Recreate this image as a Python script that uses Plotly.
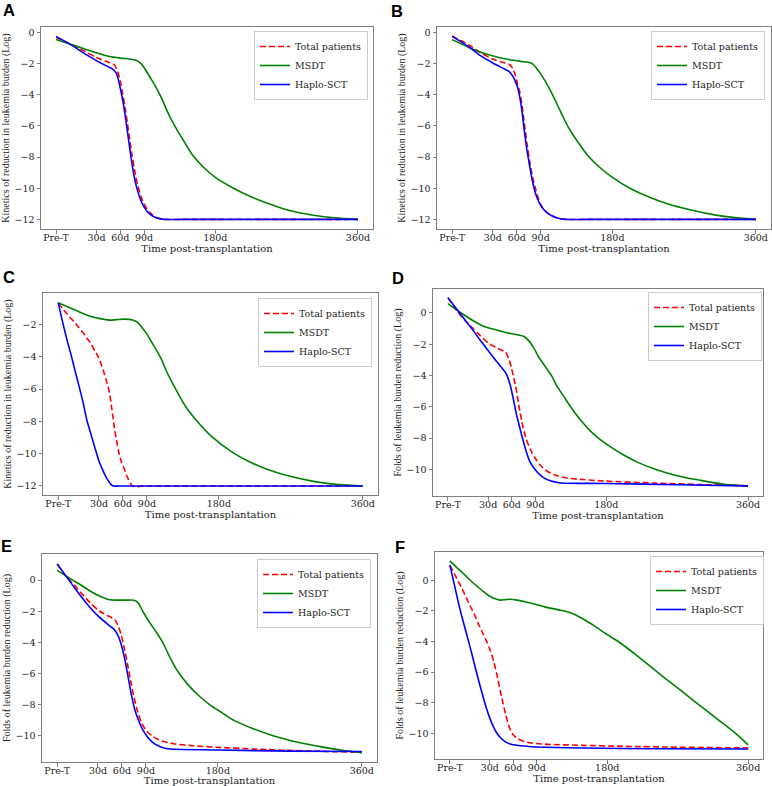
import plotly.graph_objects as go

# ---------------- data (days post-transplantation; Pre-T plotted at day -21) ----------------
TICK_DAYS = [-21, 30, 60, 90, 180, 360]
TICK_TEXT = ["Pre-T", "30d", "60d", "90d", "180d", "360d"]
SERIES_NAMES = ["Total patients", "MSDT", "Haplo-SCT"]

# Panel A
A_TOTAL_X = [-21, 0, 15, 30, 45, 52, 56, 60, 63, 66, 69, 72, 75, 78, 82, 86, 90, 97, 107, 117, 140, 180, 240, 300, 360]
A_TOTAL_Y = [-0.3, -0.8, -1.2, -1.6, -1.9, -2.05, -2.4, -3.1, -3.9, -4.8, -5.8, -6.9, -7.9, -8.8, -9.8, -10.5, -11.0, -11.55, -11.9, -12.0, -12.0, -12.0, -12.0, -12.0, -12.0]
A_MSDT_X = [-21, 0, 15, 30, 45, 60, 72, 80, 86, 92, 98, 105, 112, 118, 124, 130, 140, 151, 165, 180, 203, 225, 245, 270, 300, 330, 360]
A_MSDT_Y = [-0.45, -0.8, -1.05, -1.3, -1.52, -1.64, -1.7, -1.78, -1.98, -2.4, -2.9, -3.5, -4.2, -4.9, -5.55, -6.1, -6.95, -7.85, -8.65, -9.3, -10.0, -10.55, -10.95, -11.38, -11.7, -11.9, -12.0]
A_HAPLO_X = [-21, 0, 15, 30, 45, 50, 55, 58, 61, 64, 67, 70, 73, 76, 80, 84, 88, 95, 105, 115, 140, 180, 240, 300, 360]
A_HAPLO_Y = [-0.24, -0.85, -1.35, -1.8, -2.2, -2.33, -2.6, -3.1, -3.8, -4.6, -5.6, -6.7, -7.8, -8.8, -9.8, -10.5, -11.0, -11.55, -11.9, -12.0, -12.0, -12.0, -12.0, -12.0, -12.0]

# Panel B
B_TOTAL_X = [-21, 0, 15, 30, 45, 51, 55, 58, 61, 64, 67, 70, 73, 76, 80, 84, 88, 92, 100, 110, 121, 150, 200, 260, 310, 360]
B_TOTAL_Y = [-0.22, -0.8, -1.3, -1.7, -1.95, -2.05, -2.3, -2.7, -3.3, -3.85, -4.8, -6.0, -7.2, -8.2, -9.3, -10.1, -10.8, -11.2, -11.65, -11.9, -12.0, -12.0, -12.0, -12.0, -12.0, -12.0]
B_MSDT_X = [-21, 0, 20, 35, 50, 65, 77, 81, 85, 90, 95, 100, 105, 112, 118, 125, 135, 150, 165, 180, 202, 225, 248, 280, 310, 340, 360]
B_MSDT_Y = [-0.45, -0.95, -1.35, -1.57, -1.73, -1.85, -1.93, -2.05, -2.3, -2.65, -3.05, -3.5, -4.0, -4.75, -5.4, -6.1, -6.9, -7.95, -8.7, -9.3, -10.0, -10.55, -10.98, -11.42, -11.73, -11.92, -12.0]
B_HAPLO_X = [-21, 0, 15, 30, 45, 51, 55, 58, 61, 64, 67, 70, 73, 76, 80, 84, 88, 92, 100, 110, 121, 150, 200, 260, 310, 360]
B_HAPLO_Y = [-0.24, -0.92, -1.5, -1.95, -2.35, -2.52, -2.8, -3.1, -3.5, -4.2, -5.2, -6.5, -7.6, -8.5, -9.6, -10.4, -10.9, -11.25, -11.65, -11.9, -12.0, -12.0, -12.0, -12.0, -12.0, -12.0]

# Panel C
C_TOTAL_X = [-21, -10, 0, 5, 10, 15, 20, 25, 29, 33, 37, 40, 43, 46, 49, 52, 55, 58, 62, 66, 72, 90, 130, 180, 240, 300, 360]
C_TOTAL_Y = [-0.66, -1.35, -1.9, -2.2, -2.5, -2.85, -3.2, -3.65, -4.0, -4.5, -5.1, -5.6, -6.2, -7.2, -8.3, -9.2, -9.95, -10.5, -11.0, -11.5, -12.0, -12.0, -12.0, -12.0, -12.0, -12.0, -12.0]
C_MSDT_X = [-21, 0, 10, 20, 30, 44, 52, 62, 72, 78, 84, 90, 96, 102, 108, 114, 120, 126, 138, 152, 170, 198, 220, 241, 270, 300, 330, 360]
C_MSDT_Y = [-0.66, -1.1, -1.32, -1.5, -1.62, -1.73, -1.7, -1.67, -1.72, -1.85, -2.2, -2.6, -3.1, -3.6, -4.15, -4.85, -5.45, -6.0, -7.05, -7.95, -8.9, -9.95, -10.55, -10.98, -11.42, -11.73, -11.92, -12.0]
C_HAPLO_X = [-21, -15, -10, -5, 0, 5, 10, 15, 20, 25, 30, 35, 40, 45, 48, 60, 90, 130, 180, 240, 300, 360]
C_HAPLO_Y = [-0.66, -1.95, -2.95, -3.85, -4.85, -5.8, -6.8, -7.95, -8.8, -9.65, -10.45, -11.05, -11.55, -11.9, -12.0, -12.0, -12.0, -12.0, -12.0, -12.0, -12.0, -12.0]

# Panel D
D_TOTAL_X = [-21, -10, 0, 10, 20, 31, 40, 47, 52, 56, 60, 65, 69, 73, 78, 84, 90, 98, 106, 115, 130, 150, 180, 240, 300, 360]
D_TOTAL_Y = [0.98, 0.15, -0.45, -0.95, -1.45, -1.95, -2.2, -2.38, -2.5, -2.9, -3.6, -4.72, -5.9, -7.0, -8.0, -8.76, -9.3, -9.83, -10.15, -10.36, -10.55, -10.65, -10.75, -10.87, -10.97, -11.05]
D_MSDT_X = [-21, -10, 0, 10, 20, 30, 45, 60, 75, 82, 88, 94, 100, 111, 117, 127, 134, 142, 150, 160, 170, 185, 201, 220, 243, 270, 300, 330, 360]
D_MSDT_Y = [0.6, 0.2, -0.15, -0.47, -0.75, -0.95, -1.15, -1.33, -1.49, -1.8, -2.25, -2.8, -3.25, -4.05, -4.65, -5.4, -5.95, -6.5, -7.0, -7.55, -8.0, -8.55, -9.05, -9.55, -10.0, -10.4, -10.7, -10.95, -11.07]
D_HAPLO_X = [-21, -10, 0, 10, 20, 30, 40, 48, 53, 58, 62, 66, 69, 73, 77.5, 83, 90, 98, 107, 120, 180, 270, 360]
D_HAPLO_Y = [0.98, 0.25, -0.4, -1.05, -1.75, -2.4, -3.05, -3.55, -3.9, -4.6, -5.5, -6.5, -7.1, -7.9, -8.7, -9.5, -10.04, -10.45, -10.7, -10.85, -10.9, -10.98, -11.05]

# Panel E
E_TOTAL_X = [-21, -10, 0, 12, 20, 32, 45, 51, 55, 59, 63, 67, 71, 75, 80, 85, 91, 98, 106, 125, 150, 180, 240, 300, 360]
E_TOTAL_Y = [1.03, 0.25, -0.3, -1.0, -1.45, -2.0, -2.35, -2.55, -2.9, -3.5, -4.4, -5.4, -6.5, -7.5, -8.5, -9.2, -9.7, -10.0, -10.25, -10.5, -10.63, -10.73, -10.87, -10.97, -11.05]
E_MSDT_X = [-21, 0, 12, 20, 32, 43, 55, 65, 75, 80, 86, 95, 103, 111, 118, 125, 131, 145, 158, 170, 185, 200, 225, 250, 280, 310, 340, 360]
E_MSDT_Y = [0.62, -0.05, -0.43, -0.7, -1.03, -1.25, -1.29, -1.29, -1.3, -1.45, -2.0, -2.75, -3.35, -4.0, -4.75, -5.45, -5.95, -6.85, -7.5, -8.0, -8.5, -9.0, -9.55, -10.0, -10.4, -10.7, -10.95, -11.07]
E_HAPLO_X = [-21, -10, 0, 15, 30, 45, 50, 55, 60, 64, 68, 72, 76, 80, 86, 91, 98, 106, 115, 180, 270, 360]
E_HAPLO_Y = [1.03, 0.25, -0.45, -1.45, -2.3, -2.95, -3.15, -3.55, -4.3, -5.2, -6.3, -7.4, -8.3, -8.9, -9.6, -10.0, -10.4, -10.65, -10.8, -10.9, -10.97, -11.0]

# Panel F
F_TOTAL_X = [-21, -15, -10, -5, 0, 5, 10, 15, 20, 25, 30, 35, 40, 45, 50, 55, 60, 66, 78, 100, 150, 200, 270, 360]
F_TOTAL_Y = [0.98, 0.4, -0.1, -0.6, -1.15, -1.7, -2.2, -2.8, -3.35, -3.9, -4.5, -5.3, -6.4, -7.6, -8.7, -9.6, -10.1, -10.35, -10.58, -10.7, -10.78, -10.84, -10.9, -10.95]
F_MSDT_X = [-21, -10, 0, 7, 15, 22, 28, 36, 43, 50, 56, 65, 75, 90, 100, 124, 137, 150, 164, 180, 194, 220, 244, 269, 294, 319, 344, 360]
F_MSDT_Y = [1.26, 0.72, 0.25, -0.1, -0.45, -0.75, -0.98, -1.2, -1.3, -1.27, -1.24, -1.3, -1.41, -1.6, -1.74, -2.0, -2.2, -2.55, -3.0, -3.55, -4.0, -5.0, -6.0, -7.0, -8.0, -9.0, -10.0, -10.75]
F_HAPLO_X = [-21, -15, -10, -5, 0, 5, 10, 15, 20, 25, 30, 35, 40, 45, 50, 55, 62, 80, 100, 150, 240, 360]
F_HAPLO_Y = [0.98, -0.35, -1.5, -2.5, -3.45, -4.4, -5.4, -6.4, -7.35, -8.25, -9.0, -9.6, -10.05, -10.35, -10.55, -10.67, -10.76, -10.85, -10.9, -10.95, -11.0, -11.02]

PANEL_LETTERS = ["A", "B", "C", "D", "E", "F"]
Y_TITLES = [
    "Kinetics of reduction in leukemia burden (Log)",
    "Kinetics of reduction in leukemia burden (Log)",
    "Kinetics of reduction in leukemia burden (Log)",
    "Folds of leukemia burden reduction (Log)",
    "Folds of leukemia burden reduction (Log)",
    "Folds of leukemia burden reduction (Log)",
]
Y_TICKS = [
    [0, -2, -4, -6, -8, -10, -12],
    [0, -2, -4, -6, -8, -10, -12],
    [-2, -4, -6, -8, -10, -12],
    [0, -2, -4, -6, -8, -10],
    [0, -2, -4, -6, -8, -10],
    [0, -2, -4, -6, -8, -10],
]
X_TITLE = "Time post-transplantation"

PANELS = [
    (A_TOTAL_X, A_TOTAL_Y, A_MSDT_X, A_MSDT_Y, A_HAPLO_X, A_HAPLO_Y),
    (B_TOTAL_X, B_TOTAL_Y, B_MSDT_X, B_MSDT_Y, B_HAPLO_X, B_HAPLO_Y),
    (C_TOTAL_X, C_TOTAL_Y, C_MSDT_X, C_MSDT_Y, C_HAPLO_X, C_HAPLO_Y),
    (D_TOTAL_X, D_TOTAL_Y, D_MSDT_X, D_MSDT_Y, D_HAPLO_X, D_HAPLO_Y),
    (E_TOTAL_X, E_TOTAL_Y, E_MSDT_X, E_MSDT_Y, E_HAPLO_X, E_HAPLO_Y),
    (F_TOTAL_X, F_TOTAL_Y, F_MSDT_X, F_MSDT_Y, F_HAPLO_X, F_HAPLO_Y),
]

# ---------------- layout (pixel geometry of the 772x786 canvas) ----------------
W, H = 772, 786
# plot boxes: (left, right, top, bottom) in px
BOXES = [
    (41, 373, 27, 229),
    (437, 771, 27, 229),
    (43, 378, 293, 495),
    (433, 763, 289, 496),
    (42, 377, 554, 762),
    (435, 763, 552, 759),
]
Y_RANGES = [
    [-12.62, 0.36],
    [-12.62, 0.36],
    [-12.56, -0.05],
    [-11.7, 1.53],
    [-11.67, 1.67],
    [-11.67, 1.84],
]
X_RANGE = [-40, 379]
# legend boxes: (right, top) in px
LEGEND_POS = [(368, 31), (765, 31), (372, 298), (762, 292), (371, 559), (764, 556)]
# panel letters: (center x, center y) in px
LETTER_POS = [(9, 10), (397, 10.5), (9, 277), (398, 278), (6, 545.5), (400, 546.5)]

COLORS = ["#ff0000", "#008000", "#0000ff"]
DASHES = ["6px,3px", "solid", "solid"]
SERIF = "DejaVu Serif"
TITLE_SERIF = "Liberation Serif, Times New Roman, serif"
FRAME = "#7f7f7f"

fig = go.Figure()
layout = dict(
    width=W, height=H,
    margin=dict(l=0, r=0, t=0, b=0, autoexpand=False),
    paper_bgcolor="white", plot_bgcolor="white",
    showlegend=True,
    font=dict(family=SERIF, size=9.5, color="#222"),
    annotations=[],
)

for i, (tx, ty, mx, my, hx, hy) in enumerate(PANELS):
    n = i + 1
    sfx = "" if n == 1 else str(n)
    leg = "legend" if n == 1 else f"legend{n}"
    for name, xs, ys, col, dash in zip(SERIES_NAMES, (tx, mx, hx), (ty, my, hy), COLORS, DASHES):
        fig.add_trace(go.Scatter(
            x=xs, y=ys, mode="lines", name=name,
            line=dict(color=col, width=1.6, dash=dash, shape="spline", smoothing=0.8),
            xaxis="x" + sfx, yaxis="y" + sfx, legend=leg,
        ))
    l, r, t, b = BOXES[i]
    layout["xaxis" + sfx] = dict(
        domain=[l / W, r / W], anchor="y" + sfx, range=X_RANGE, automargin=False,
        tickmode="array", tickvals=TICK_DAYS, ticktext=TICK_TEXT,
        ticks="outside", ticklen=3.5, tickwidth=1, tickcolor=FRAME,
        ticklabelstandoff=-4,
        showline=True, linecolor=FRAME, linewidth=1, mirror=True,
        showgrid=False, zeroline=False,
        tickfont=dict(family=SERIF, size=9.5, color="#222"),
        title=dict(text=X_TITLE, font=dict(family=SERIF, size=10, color="#222"), standoff=0),
    )
    layout["yaxis" + sfx] = dict(
        domain=[1 - b / H, 1 - t / H], anchor="x" + sfx, range=Y_RANGES[i], automargin=False,
        tickmode="array", tickvals=Y_TICKS[i],
        ticks="outside", ticklen=3.5, tickwidth=1, tickcolor=FRAME,
        showline=True, linecolor=FRAME, linewidth=1, mirror=True,
        showgrid=False, zeroline=False,
        tickfont=dict(family=SERIF, size=9.5, color="#222"),
        title=dict(text=Y_TITLES[i], font=dict(family=TITLE_SERIF, size=10, color="#222"), standoff=3),
    )
    lx, ly = LEGEND_POS[i]
    layout[leg] = dict(
        x=lx / W, y=1 - ly / H, xanchor="right", yanchor="top",
        bgcolor="rgba(255,255,255,0.85)", bordercolor="#cccccc", borderwidth=1,
        font=dict(family=SERIF, size=9.5, color="#222"),
        tracegroupgap=0, itemwidth=30,
    )
    cx, cy = LETTER_POS[i]
    layout["annotations"].append(dict(
        text="<b>" + PANEL_LETTERS[i] + "</b>", xref="paper", yref="paper",
        x=cx / W, y=1 - cy / H, xanchor="center", yanchor="middle", showarrow=False,
        font=dict(family="Liberation Sans, Arial, sans-serif", size=16.5, color="black"),
    ))

fig.update_layout(**layout)
# remove the browser's default 8px page margin so the 772x786 figure fills the window exactly
fig.write_html(
    "out.html",
    config={"displayModeBar": False},
    post_script="document.body.style.margin='0';document.body.style.overflow='hidden';",
)
